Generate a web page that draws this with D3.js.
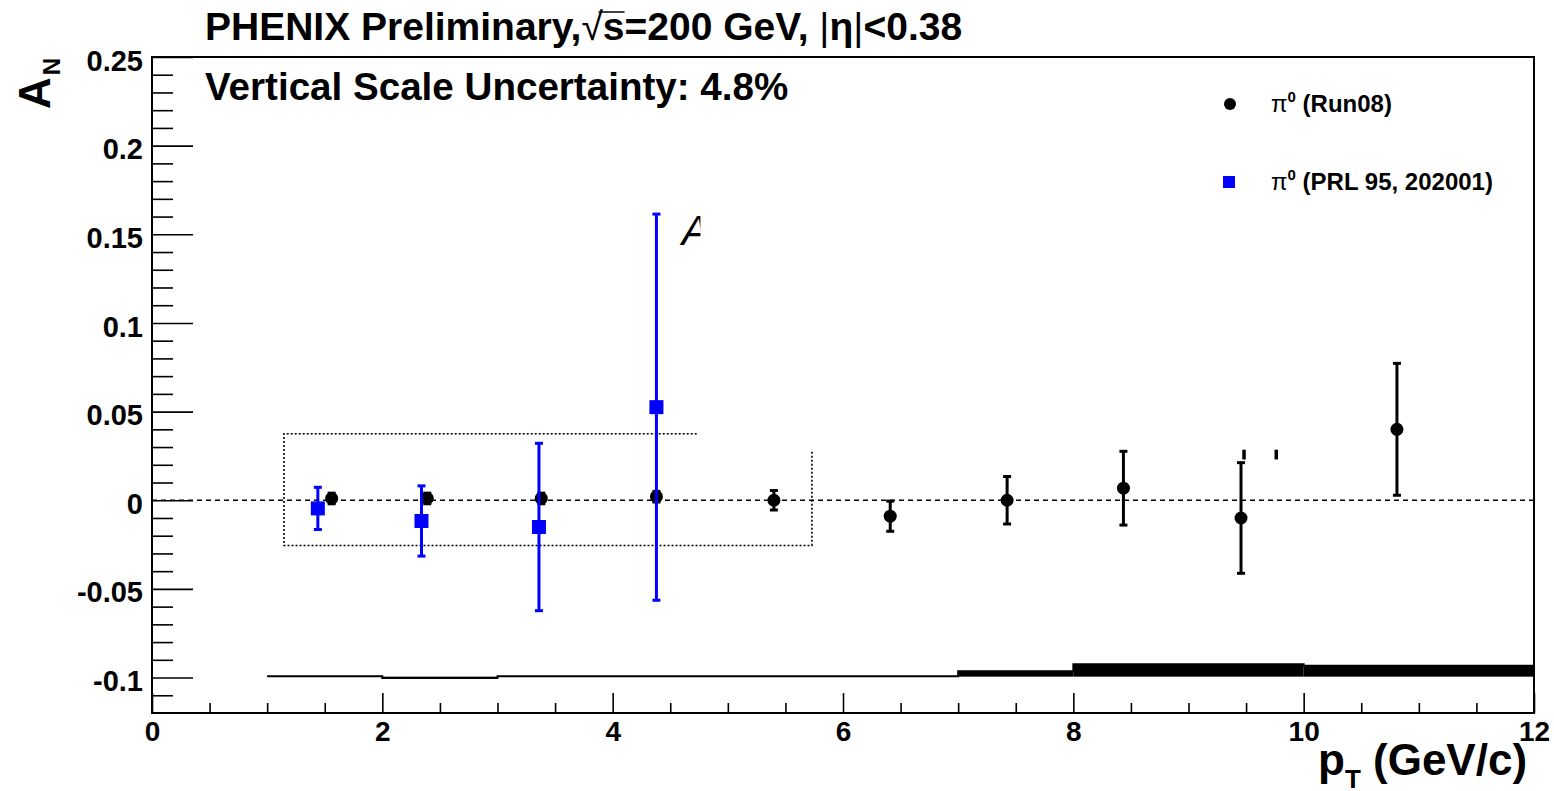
<!DOCTYPE html>
<html><head><meta charset="utf-8">
<script src="https://cdn.jsdelivr.net/npm/d3@7"></script>
<style>
body{margin:0;background:#fff;}
svg{display:block;}
text{font-family:"Liberation Sans",Arial,Helvetica,sans-serif;fill:#000;}
</style>
</head><body>
<svg id="c" width="1554" height="791"></svg>
<script>
// ---------------- data ----------------
const run08PT  = [1.56, 2.39, 3.38, 4.38, 5.40, 6.41, 7.425, 8.435, 9.456, 10.81];
const run08AN  = [0.001, 0.001, 0.001, 0.002, 0.0, -0.009, 0.0, 0.0068, -0.010, 0.040];
const run08Err = [0.003, 0.003, 0.003, 0.003, 0.0055, 0.0085, 0.0134, 0.0208, 0.0312, 0.0372];

const prlPT  = [1.44, 2.34, 3.36, 4.38];
const prlAN  = [-0.0046, -0.0117, -0.0151, 0.0525];
const prlErr = [0.0119, 0.0198, 0.0472, 0.1089];

// systematic band (drawn around A_N = -0.1)
const sysLo  = [1, 2, 3, 7, 8, 10];
const sysHi  = [2, 3, 7, 8, 10, 12];
const sysTop = [-0.0993, -0.1003, -0.0993, -0.0965, -0.0925, -0.0934];
const sysBase = -0.0995;

const xTickValues = [0, 2, 4, 6, 8, 10, 12];
const xTickLabels = ["0", "2", "4", "6", "8", "10", "12"];
const yTickValues = [-0.1, -0.05, 0, 0.05, 0.1, 0.15, 0.2, 0.25];
const yTickLabels = ["-0.1", "-0.05", "0", "0.05", "0.1", "0.15", "0.2", "0.25"];

// overlay remnants seen in the picture (data coordinates)
const dottedBox = [[4.73, 0.0375], [1.146, 0.0375], [1.146, -0.0255], [5.73, -0.0255], [5.73, 0.028]];
const stubMarks = [[9.48, 0.0285, 0.0230], [9.76, 0.0285, 0.0230]];

// ---------------- layout ----------------
const L = 152, R = 1534, T = 57, B = 713;
const svg = d3.select("#c");
const x = d3.scaleLinear().domain([0, 12]).range([L, R]);
const y = d3.scaleLinear().domain([-0.12, 0.25]).range([B, T]);
const BOLD = el => el.style("font-weight", "bold");
const NORM = el => el.style("font-weight", "normal");

svg.append("defs").append("clipPath").attr("id", "plotclip")
  .append("rect").attr("x", L).attr("y", T).attr("width", R - L).attr("height", B - T);
svg.select("defs").append("clipPath").attr("id", "aclip")
  .append("rect").attr("x", x(4.5)).attr("y", y(0.17)).attr("width", x(4.762) - x(4.5)).attr("height", y(0.13) - y(0.17));

// axes: minor ticks
const yMinor = d3.range(-11, 26).map(d => d / 100).filter(v => !yTickValues.some(t => Math.abs(t - v) < 1e-9));
svg.append("g").attr("transform", `translate(${L},0)`)
  .call(d3.axisLeft(y).tickValues(yMinor).tickSize(-21).tickSizeOuter(0).tickFormat(""))
  .call(g => g.select(".domain").remove())
  .selectAll("line").attr("stroke", "#000").attr("stroke-width", 1.6);
const xMinor = d3.range(0, 24).map(d => d / 2).filter(v => v % 2 !== 0);
svg.append("g").attr("transform", `translate(0,${B})`)
  .call(d3.axisBottom(x).tickValues(xMinor).tickSize(-10).tickSizeOuter(0).tickFormat(""))
  .call(g => g.select(".domain").remove())
  .selectAll("line").attr("stroke", "#000").attr("stroke-width", 1.6);

// major
const yAx = svg.append("g").attr("transform", `translate(${L},0)`)
  .call(d3.axisLeft(y).tickValues(yTickValues).tickSize(-41).tickSizeOuter(0).tickPadding(9)
        .tickFormat((d, i) => yTickLabels[i]));
yAx.select(".domain").remove();
yAx.selectAll("line").attr("stroke", "#000").attr("stroke-width", 1.6);
yAx.selectAll("text").attr("font-size", 29).attr("font-family", '"Liberation Sans",Arial,sans-serif')
  .style("font-weight", "bold").attr("dy", "0.45em").attr("fill", "#000");

const xAx = svg.append("g").attr("transform", `translate(0,${B})`)
  .call(d3.axisBottom(x).tickValues(xTickValues).tickSize(-20).tickSizeOuter(0).tickPadding(8)
        .tickFormat((d, i) => xTickLabels[i]));
xAx.select(".domain").remove();
xAx.selectAll("line").attr("stroke", "#000").attr("stroke-width", 1.6);
xAx.selectAll("text").attr("font-size", 28).attr("font-family", '"Liberation Sans",Arial,sans-serif')
  .style("font-weight", "bold").attr("fill", "#000");

// frame
svg.append("rect").attr("x", L).attr("y", T).attr("width", R - L).attr("height", B - T)
  .attr("fill", "none").attr("stroke", "#000").attr("stroke-width", 2);

const plot = svg.append("g").attr("clip-path", "url(#plotclip)");

// zero dashed line
plot.append("line").attr("x1", x(0)).attr("x2", x(12)).attr("y1", y(0)).attr("y2", y(0))
  .attr("stroke", "#000").attr("stroke-width", 1.5).attr("stroke-dasharray", "5,4");

// systematic band
plot.selectAll("rect.sys").data(sysLo).join("rect").attr("class", "sys")
  .attr("x", (d, i) => x(sysLo[i])).attr("width", (d, i) => x(sysHi[i]) - x(sysLo[i]))
  .attr("y", (d, i) => y(Math.max(sysTop[i], sysBase)))
  .attr("height", (d, i) => Math.abs(y(sysTop[i]) - y(sysBase)))
  .attr("fill", "#000");
const stepPts = [];
sysLo.forEach((d, i) => { stepPts.push([sysLo[i], sysTop[i]]); stepPts.push([sysHi[i], sysTop[i]]); });
plot.append("path").attr("d", d3.line().x(d => x(d[0])).y(d => y(d[1]))(stepPts))
  .attr("fill", "none").attr("stroke", "#000").attr("stroke-width", 2);

// dotted box remnant
plot.append("path").attr("d", d3.line().x(d => x(d[0])).y(d => y(d[1]))(dottedBox))
  .attr("fill", "none").attr("stroke", "#000").attr("stroke-width", 1.6).attr("stroke-dasharray", "2,2");

// stubs
plot.selectAll("rect.stub").data(stubMarks).join("rect").attr("class", "stub")
  .attr("x", d => x(d[0]) - 1.5).attr("width", 3.5)
  .attr("y", d => y(d[1])).attr("height", d => y(d[2]) - y(d[1])).attr("fill", "#000");

// partial "A"
svg.append("text").attr("clip-path", "url(#aclip)")
  .attr("x", x(4.60)).attr("y", y(0.144))
  .attr("font-size", 42).style("font-weight", "normal").style("font-style", "italic")
  .text("A");

// error bars helper
function errorBars(g, px, py, pe, color, w, cap) {
  const idx = d3.range(px.length);
  g.selectAll("line.eb").data(idx).join("line").attr("class", "eb")
    .attr("x1", i => x(px[i])).attr("x2", i => x(px[i]))
    .attr("y1", i => y(py[i] + pe[i])).attr("y2", i => y(py[i] - pe[i]))
    .attr("stroke", color).attr("stroke-width", w);
  g.selectAll("line.ct").data(idx).join("line").attr("class", "ct")
    .attr("x1", i => x(px[i]) - cap).attr("x2", i => x(px[i]) + cap)
    .attr("y1", i => y(py[i] + pe[i])).attr("y2", i => y(py[i] + pe[i]))
    .attr("stroke", color).attr("stroke-width", 3);
  g.selectAll("line.cb").data(idx).join("line").attr("class", "cb")
    .attr("x1", i => x(px[i]) - cap).attr("x2", i => x(px[i]) + cap)
    .attr("y1", i => y(py[i] - pe[i])).attr("y2", i => y(py[i] - pe[i]))
    .attr("stroke", color).attr("stroke-width", 3);
}

// Run08 (black circles)
const gRun = plot.append("g");
errorBars(gRun, run08PT, run08AN, run08Err, "#000", 3, 4);
gRun.selectAll("circle").data(d3.range(run08PT.length)).join("circle")
  .attr("cx", i => x(run08PT[i])).attr("cy", i => y(run08AN[i])).attr("r", 6.5).attr("fill", "#000");

// PRL (blue squares)
const gPrl = plot.append("g");
errorBars(gPrl, prlPT, prlAN, prlErr, "#0000ff", 3, 4);
gPrl.selectAll("rect").data(d3.range(prlPT.length)).join("rect")
  .attr("x", i => x(prlPT[i]) - 7).attr("y", i => y(prlAN[i]) - 7)
  .attr("width", 14).attr("height", 14).attr("fill", "#0000ff");

// ---------------- texts ----------------
const title = svg.append("text").attr("x", 205).attr("y", 40).attr("font-size", 39).style("font-weight", "bold");
title.append("tspan").text("PHENIX Preliminary,");
NORM(title.append("tspan")).text("\u221A");
title.append("tspan").text("s");
title.append("tspan").text("=200 GeV, ");
NORM(title.append("tspan")).text("|");
title.append("tspan").text("\u03B7");
NORM(title.append("tspan")).text("|");
title.append("tspan").text("<0.38");
{
  const n = title.node();
  const sIdx = "PHENIX Preliminary,\u221A".length;
  const a = n.getStartPositionOfChar(sIdx - 1).x, b = n.getEndPositionOfChar(sIdx - 1).x;
  const x0 = a + 0.8 * (b - a);
  const x1 = n.getEndPositionOfChar(sIdx).x;
  svg.append("line").attr("x1", x0).attr("x2", x1).attr("y1", 12).attr("y2", 12)
    .attr("stroke", "#000").attr("stroke-width", 1.5);
}

svg.append("text").attr("x", 205).attr("y", 100).attr("font-size", 38.6).style("font-weight", "bold")
  .text("Vertical Scale Uncertainty: 4.8%");

// y title
const yt = svg.append("text").attr("transform", "translate(50,109) rotate(-90)").attr("font-size", 44).style("font-weight", "bold");
yt.append("tspan").text("A");
yt.append("tspan").attr("font-size", 24).attr("dy", 10).attr("dx", 2).text("N");

// x title
const xt = svg.append("text").attr("x", 1318).attr("y", 775).attr("font-size", 44).style("font-weight", "bold");
xt.append("tspan").text("p");
xt.append("tspan").attr("font-size", 26).attr("dy", 13).text("T");
xt.append("tspan").attr("dy", -13).text(" (GeV/c)");

// legend
svg.append("circle").attr("cx", 1230).attr("cy", 104).attr("r", 6).attr("fill", "#000");
svg.append("rect").attr("x", 1223).attr("y", 176).attr("width", 12).attr("height", 12).attr("fill", "#0000ff");
const leg = [["(Run08)", 112], ["(PRL 95, 202001)", 190]];
leg.forEach(([s, yy]) => {
  const t = svg.append("text").attr("x", 1271).attr("y", yy).attr("font-size", 24).style("font-weight", "bold");
  NORM(t.append("tspan")).text("\u03C0");
  t.append("tspan").attr("font-size", 15).attr("dy", -10).text("0");
  t.append("tspan").attr("dy", 10).text(" " + s);
});
</script>
</body></html>
